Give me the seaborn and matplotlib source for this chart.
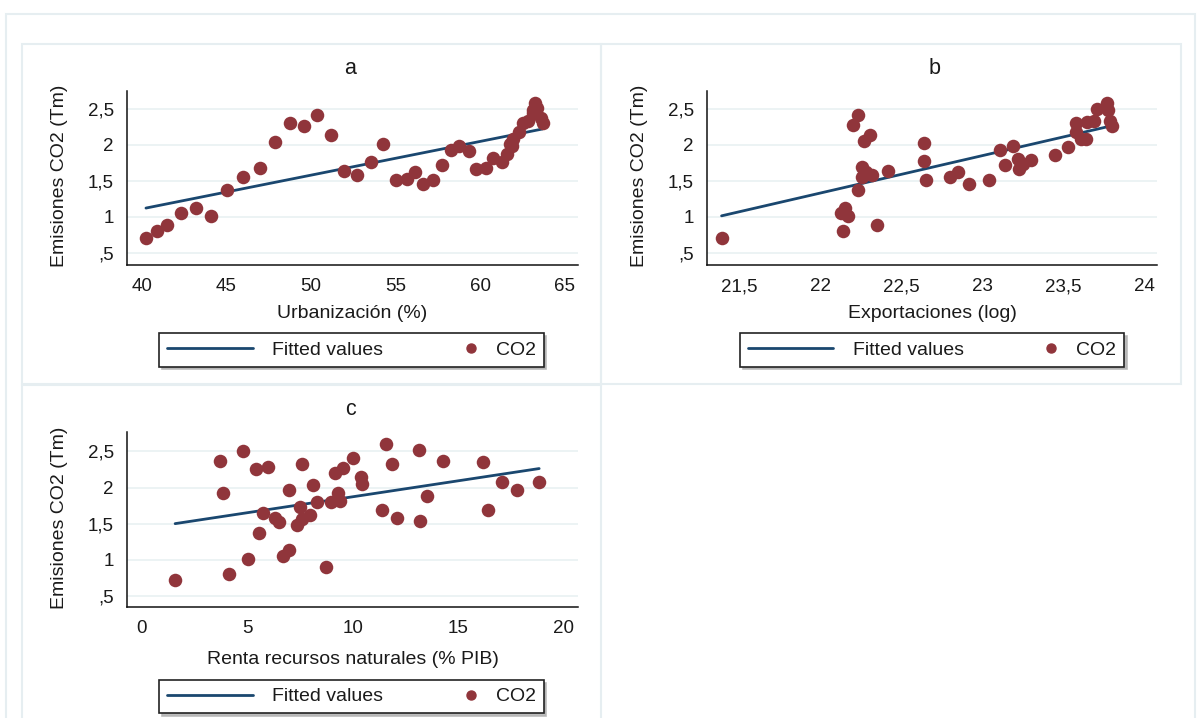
import numpy as np
import matplotlib
matplotlib.use("Agg")
import matplotlib.pyplot as plt
import seaborn as sns
from matplotlib.legend_handler import HandlerLine2D
from matplotlib.lines import Line2D
from matplotlib.patches import Rectangle

# ---------------- data ----------------
urbanizacion = [40.25, 40.89, 41.48, 42.3, 43.23, 44.11, 45.02, 46.0, 46.99, 47.86,
                48.76, 49.61, 50.37, 51.18, 51.95, 52.7, 53.53, 54.27, 55.02, 55.65,
                56.16, 56.64, 57.22, 57.74, 58.25, 58.76, 59.31, 59.75, 60.32, 60.77,
                61.27, 61.56, 61.75, 61.95, 62.3, 62.54, 62.84, 63.13, 63.23, 63.68,
                63.56, 63.33, 61.9, 63.1]
co2_a = [0.71, 0.80, 0.89, 1.05, 1.13, 1.01, 1.37, 1.56, 1.68, 2.04,
         2.30, 2.27, 2.41, 2.14, 1.64, 1.59, 1.77, 2.02, 1.52, 1.53,
         1.62, 1.46, 1.51, 1.72, 1.93, 1.98, 1.91, 1.67, 1.68, 1.82,
         1.77, 1.88, 2.02, 2.08, 2.18, 2.30, 2.34, 2.49, 2.58, 2.30,
         2.38, 2.52, 1.98, 2.44]

exportaciones = [21.39, 22.14, 22.13, 22.15, 22.17, 22.20, 22.23, 22.23, 22.27, 22.31,
                 22.26, 22.28, 22.26, 22.32, 22.35, 22.42, 22.64, 22.64, 22.65, 22.80,
                 22.85, 22.92, 23.04, 23.11, 23.14, 23.19, 23.22, 23.23, 23.25, 23.30,
                 23.45, 23.53, 23.58, 23.58, 23.61, 23.64, 23.65, 23.69, 23.71, 23.77,
                 23.79, 23.80, 23.78]
co2_b = [0.71, 0.80, 1.05, 1.12, 1.01, 2.28, 2.42, 1.37, 2.05, 2.14,
         1.70, 1.63, 1.56, 1.58, 0.89, 1.64, 2.03, 1.78, 1.52, 1.55,
         1.62, 1.46, 1.51, 1.93, 1.72, 1.98, 1.81, 1.67, 1.74, 1.79,
         1.86, 1.97, 2.30, 2.18, 2.09, 2.09, 2.32, 2.34, 2.50, 2.58,
         2.34, 2.26, 2.48]

renta = [1.58, 3.71, 3.87, 4.11, 4.78, 5.02, 5.41, 5.57, 5.76, 6.0,
         6.31, 6.52, 6.68, 6.99, 6.99, 7.34, 7.58, 7.50, 7.58, 7.97,
         8.10, 8.29, 8.73, 8.95, 9.16, 9.31, 9.39, 9.52, 10.02, 10.37,
         10.45, 11.38, 11.56, 11.84, 12.11, 13.12, 13.18, 13.50, 14.29, 16.18,
         16.42, 17.05, 17.76, 18.83]
co2_c = [0.72, 2.37, 1.92, 0.80, 2.51, 1.01, 2.26, 1.375, 1.65, 2.29,
         1.575, 1.52, 1.05, 1.14, 1.97, 1.48, 1.56, 1.73, 2.33, 1.62,
         2.04, 1.80, 0.90, 1.80, 2.20, 1.93, 1.82, 2.27, 2.41, 2.15,
         2.05, 1.69, 2.60, 2.32, 1.575, 2.52, 1.53, 1.88, 2.37, 2.35,
         1.69, 2.07, 1.97, 2.08]

y_ticks = [0.5, 1, 1.5, 2, 2.5]
y_tick_labels = [",5", "1", "1,5", "2", "2,5"]
xa_ticks = [40, 45, 50, 55, 60, 65]
xa_tick_labels = ["40", "45", "50", "55", "60", "65"]
xb_ticks = [21.5, 22, 22.5, 23, 23.5, 24]
xb_tick_labels = ["21,5", "22", "22,5", "23", "23,5", "24"]
xc_ticks = [0, 5, 10, 15, 20]
xc_tick_labels = ["0", "5", "10", "15", "20"]

titles = ["a", "b", "c"]
x_labels = ["Urbanización (%)", "Exportaciones (log)", "Renta recursos naturales (% PIB)"]
y_label = "Emisiones CO2 (Tm)"
legend_labels = ["Fitted values", "CO2"]

# ---------------- style ----------------
sns.set_style("white")
plt.rcParams["font.family"] = ["Liberation Sans", "DejaVu Sans"]

RED = "#90353B"
NAVY = "#1A476F"
GRID = "#EAF2F3"
FRAME = "#E6EEF1"
TXT = "#1a1a1a"
FS = 14

W, H = 1200, 718
fig = plt.figure(figsize=(W / 100, H / 100), dpi=100)
fig.patch.set_facecolor("white")


def fx(px):
    return px / W


def fy(py):
    return 1 - py / H


def frame(x0, y0, x1, y1, lw=1.5):
    fig.add_artist(Rectangle((fx(x0), fy(y1)), fx(x1) - fx(x0), fy(y0) - fy(y1),
                             transform=fig.transFigure, fill=False, ec=FRAME, lw=lw, zorder=0))


frame(6, 14, 1195, 730)
frame(22, 44, 601, 384)
frame(601, 44, 1181, 384)
frame(22, 385, 601, 730)


class RightMarker(HandlerLine2D):
    def get_xdata(self, legend, xdescent, ydescent, width, height, fontsize):
        xm = -xdescent + width - 0.3 * fontsize
        return np.array([xm, xm]), np.array([xm])


def panel(rect_px, x, y, xlim, ylim, xticks, xticklabels, xlabel, title,
          xlabel_y, title_xy, legend_center_px):
    l, t, r, b = rect_px
    ax = fig.add_axes([fx(l), fy(b), fx(r) - fx(l), fy(t) - fy(b)])
    sns.regplot(x=np.array(x), y=np.array(y), ax=ax, scatter=False, ci=None,
                truncate=True, color=NAVY, line_kws=dict(lw=2, zorder=2))
    sns.scatterplot(x=np.array(x), y=np.array(y), ax=ax, color=RED, s=95,
                    linewidth=0, zorder=3, legend=False)
    ax.set_xlim(*xlim)
    ax.set_ylim(*ylim)
    ax.set_xticks(xticks)
    ax.set_xticklabels(xticklabels)
    ax.set_yticks(y_ticks)
    ax.set_yticklabels(y_tick_labels)
    ax.tick_params(axis="both", which="major", length=5.5, width=1.2, color="#8a8a8a",
                   labelsize=13.5, labelcolor=TXT, pad=4, direction="out")
    ax.yaxis.grid(True, color=GRID, lw=1.3)
    ax.xaxis.grid(False)
    ax.set_axisbelow(True)
    for s in ("top", "right"):
        ax.spines[s].set_visible(False)
    for s in ("left", "bottom"):
        ax.spines[s].set_color("#111111")
        ax.spines[s].set_linewidth(1.1)

    h = b - t
    w = r - l
    ax.set_xlabel(xlabel, fontsize=FS, color=TXT, va="center")
    ax.xaxis.set_label_coords(0.5, (b - xlabel_y) / h)
    ax.set_ylabel(y_label, fontsize=FS, color=TXT, va="center")
    ax.yaxis.set_label_coords(-67 / w, 0.51)
    ax.set_title(title, fontsize=15.5, color=TXT, va="center",
                 x=(title_xy[0] - l) / w, y=(b - title_xy[1]) / h)

    handles = [Line2D([], [], color=NAVY, lw=2),
               Line2D([], [], ls="none", marker="o", color=RED, markersize=6.5)]
    leg = ax.legend(handles, legend_labels, ncol=2, loc="center",
                    bbox_to_anchor=(fx(legend_center_px[0]), fy(legend_center_px[1])),
                    bbox_transform=fig.transFigure, frameon=True, fancybox=False,
                    edgecolor="#222222", framealpha=1, fontsize=FS,
                    handlelength=4.4, handletextpad=1.0, columnspacing=0.4,
                    borderpad=0.4, borderaxespad=0,
                    shadow={"color": "#b5b5b5", "alpha": 0.9},
                    handler_map={handles[1]: RightMarker(numpoints=1)})
    leg.get_frame().set_linewidth(1.2)
    for t_ in leg.get_texts():
        t_.set_color(TXT)
    return ax


panel((127, 91, 578, 265), urbanizacion, co2_a, (39.13, 65.77), (0.333, 2.75),
      xa_ticks, xa_tick_labels, x_labels[0], titles[0], 313, (350, 77), (351.5, 350))
panel((707, 91, 1157, 265), exportaciones, co2_b, (21.30, 24.08), (0.333, 2.75),
      xb_ticks, xb_tick_labels, x_labels[1], titles[1], 313, (935, 77), (932, 350))
panel((127, 432, 578, 607), renta, co2_c, (-0.70, 20.67), (0.343, 2.77),
      xc_ticks, xc_tick_labels, x_labels[2], titles[2], 660, (350, 418), (351.5, 696.5))

fig.savefig("out.png", dpi=100, facecolor="white")
